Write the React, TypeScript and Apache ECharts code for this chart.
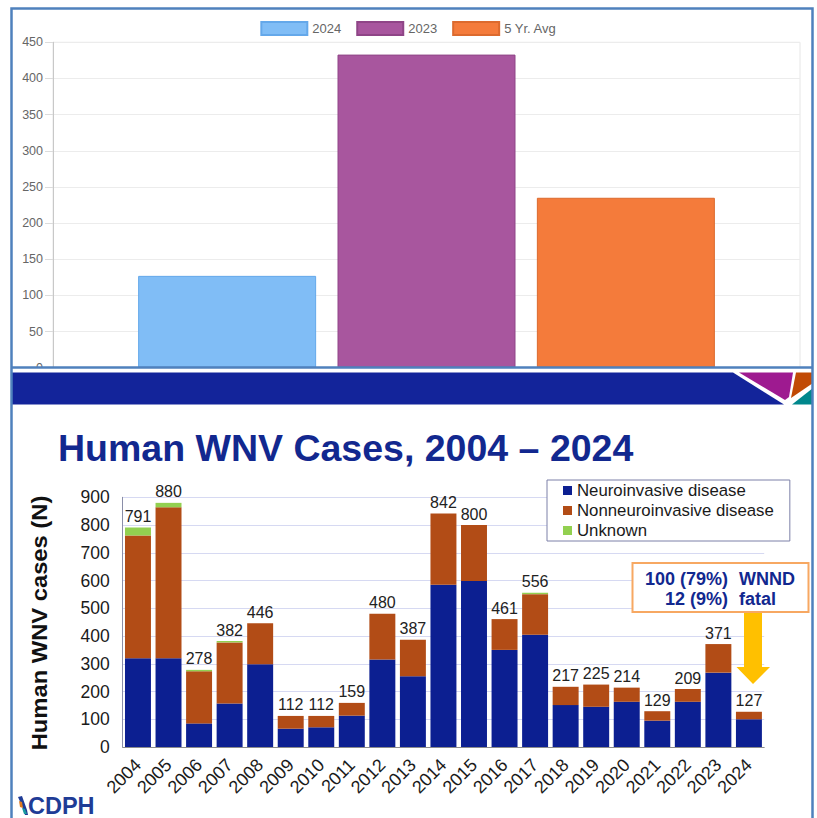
import React, { useEffect, useRef } from "react";
import * as echarts from "echarts";

// ---------- top chart data ----------
const TOP_NAMES = ["2024", "2023", "5 Yr. Avg"];
const TOP_VALUES = [127, 433, 235];
const TOP_COLORS = ["#80bdf6", "#a8569e", "#f47b3b"];
const TOP_BORDERS = ["#64a8ea", "#8f4587", "#dc6a2e"];

// ---------- bottom chart data ----------
const YEARS = [
  "2004", "2005", "2006", "2007", "2008", "2009", "2010", "2011", "2012", "2013",
  "2014", "2015", "2016", "2017", "2018", "2019", "2020", "2021", "2022", "2023", "2024",
];
const NEURO = [320, 320, 85, 157, 298, 66, 71, 113, 315, 255, 585, 598, 350, 405, 151, 145, 163, 95, 163, 268, 100];
const NON_NEURO = [442, 544, 188, 220, 148, 46, 41, 46, 165, 132, 257, 202, 111, 146, 66, 80, 51, 34, 46, 103, 27];
const UNKNOWN = [29, 16, 5, 5, 0, 0, 0, 0, 0, 0, 0, 0, 0, 5, 0, 0, 0, 0, 0, 0, 0];
const TOTALS = [791, 880, 278, 382, 446, 112, 112, 159, 480, 387, 842, 800, 461, 556, 217, 225, 214, 129, 209, 371, 127];
const BOTTOM_NAMES = ["Neuroinvasive disease", "Nonneuroinvasive disease", "Unknown"];
const BOTTOM_COLORS = ["#0c1f91", "#b24c16", "#92d050"];

const FONT = "'Liberation Sans', Arial, sans-serif";
const FRAME = "#4f81bd";
const NAVY = "#12288f";

export default function App() {
  const ref = useRef<HTMLDivElement>(null);
  useEffect(() => {
    if (!ref.current) return;
    const chart = echarts.init(ref.current, undefined, { renderer: "svg" });

    const topSeries = TOP_NAMES.map((name, i) => ({
      name,
      type: "bar",
      xAxisIndex: 0,
      yAxisIndex: 0,
      barWidth: 178,
      barGap: "12%",
      data: [TOP_VALUES[i]],
      itemStyle: { color: TOP_COLORS[i], borderColor: TOP_BORDERS[i], borderWidth: 1 },
    }));

    const bottomData = [NEURO, NON_NEURO, UNKNOWN];
    const bottomSeries = BOTTOM_NAMES.map((name, i) => ({
      name,
      type: "bar",
      stack: "cases",
      xAxisIndex: 1,
      yAxisIndex: 1,
      barCategoryGap: "15%",
      data: bottomData[i],
      itemStyle: { color: BOTTOM_COLORS[i] },
      label:
        i === 2
          ? {
              show: true,
              position: "top",
              distance: 3,
              fontSize: 16,
              fontFamily: FONT,
              color: "#222",
              formatter: (p: any) => String(TOTALS[p.dataIndex]),
            }
          : { show: false },
    }));

    chart.setOption({
      animation: false,
      backgroundColor: "#ffffff",
      textStyle: { fontFamily: FONT },
      legend: [
        {
          data: TOP_NAMES,
          left: "center",
          top: 16,
          icon: "rect",
          itemWidth: 46,
          itemHeight: 13,
          itemGap: 15,
          textStyle: { color: "#666", fontSize: 13, fontFamily: FONT },
        },
        {
          data: BOTTOM_NAMES,
          orient: "vertical",
          left: 547,
          top: 480,
          icon: "rect",
          itemWidth: 9,
          itemHeight: 9,
          itemGap: 3,
          padding: [2, 16, 2, 16],
          borderColor: "#7d80a8",
          borderWidth: 1,
          backgroundColor: "#fff",
          textStyle: { color: "#1a1a1a", fontSize: 16.8, fontFamily: FONT },
        },
      ],
      grid: [
        { left: 53, width: 747, top: 42.3, height: 325.4, show: true, borderColor: "#e6e6e6", borderWidth: 1 },
        { left: 122.7, width: 641.5, top: 497.3, height: 249.7 },
      ],
      xAxis: [
        {
          type: "category",
          gridIndex: 0,
          data: [""],
          axisLine: { show: false },
          axisTick: { show: false },
          axisLabel: { show: false },
        },
        {
          type: "category",
          gridIndex: 1,
          data: YEARS,
          axisLine: { show: true, lineStyle: { color: "#8c8c8c", width: 1 } },
          axisTick: { show: false },
          axisLabel: {
            rotate: 45,
            fontSize: 18,
            color: "#1a1a1a",
            margin: 15,
            interval: 0,
            fontFamily: FONT,
          },
        },
      ],
      yAxis: [
        {
          type: "value",
          gridIndex: 0,
          min: 0,
          max: 450,
          interval: 50,
          axisLine: { show: true, lineStyle: { color: "#c8c8c8" } },
          axisTick: { show: true, length: 8, lineStyle: { color: "#dcdcdc" } },
          axisLabel: { color: "#666", fontSize: 12.5, margin: 10, fontFamily: FONT },
          splitLine: { show: true, lineStyle: { color: "#ececec" } },
        },
        {
          type: "value",
          gridIndex: 1,
          min: 0,
          max: 900,
          interval: 100,
          axisLine: { show: true, lineStyle: { color: "#8a8ea8" } },
          axisTick: { show: false },
          axisLabel: { color: "#1a1a1a", fontSize: 17.5, margin: 13, fontFamily: FONT },
          splitLine: { show: true, lineStyle: { color: "#d6d9f2" } },
        },
      ],
      series: [...topSeries, ...bottomSeries],
      graphic: [
        // cover below top chart
        { type: "rect", z: 100, shape: { x: 12, y: 368, width: 801, height: 5 }, style: { fill: "#fff" } },
        // banner
        {
          type: "polygon",
          z: 101,
          shape: { points: [[12, 372.5], [733, 372.5], [784, 404.5], [12, 404.5]] },
          style: { fill: "#13249a" },
        },
        {
          type: "polygon",
          z: 101,
          shape: { points: [[739, 372.5], [793, 372.5], [789, 397], [785, 400]] },
          style: { fill: "#9e1a90" },
        },
        {
          type: "polygon",
          z: 101,
          shape: { points: [[796, 372.5], [813, 372.5], [813, 383], [791, 398]] },
          style: { fill: "#c14a05" },
        },
        {
          type: "polygon",
          z: 101,
          shape: { points: [[792, 404.5], [813, 388], [813, 404.5]] },
          style: { fill: "#00878c" },
        },
        // frame
        {
          type: "rect",
          z: 102,
          shape: { x: 11.5, y: 8.5, width: 801, height: 830 },
          style: { fill: "none", stroke: FRAME, lineWidth: 2.5 },
        },
        {
          type: "line",
          z: 102,
          shape: { x1: 11.5, y1: 367.5, x2: 812.5, y2: 367.5 },
          style: { stroke: FRAME, lineWidth: 2.5 },
        },
        // title
        {
          type: "text",
          z: 103,
          x: 58,
          y: 448,
          style: {
            text: "Human WNV Cases, 2004 – 2024",
            fill: NAVY,
            font: `bold 37.5px ${FONT}`,
            textVerticalAlign: "middle",
          },
        },
        // y axis name
        {
          type: "text",
          z: 103,
          x: 39,
          y: 623,
          rotation: Math.PI / 2,
          scaleX: 1.08,
          style: {
            text: "Human WNV cases (N)",
            fill: "#111",
            font: `bold 22px ${FONT}`,
            textAlign: "center",
            textVerticalAlign: "middle",
          },
        },
        // annotation box
        {
          type: "rect",
          z: 103,
          shape: { x: 632.5, y: 563, width: 176, height: 49 },
          style: { fill: "#fff", stroke: "#f7a862", lineWidth: 2 },
        },
        {
          type: "text",
          z: 104,
          x: 728,
          y: 579,
          style: { text: "100 (79%)", fill: NAVY, font: `bold 18px ${FONT}`, textAlign: "right", textVerticalAlign: "middle" },
        },
        {
          type: "text",
          z: 104,
          x: 728,
          y: 599,
          style: { text: "12 (9%)", fill: NAVY, font: `bold 18px ${FONT}`, textAlign: "right", textVerticalAlign: "middle" },
        },
        {
          type: "text",
          z: 104,
          x: 739,
          y: 579,
          style: { text: "WNND", fill: NAVY, font: `bold 18px ${FONT}`, textAlign: "left", textVerticalAlign: "middle" },
        },
        {
          type: "text",
          z: 104,
          x: 739,
          y: 599,
          style: { text: "fatal", fill: NAVY, font: `bold 18px ${FONT}`, textAlign: "left", textVerticalAlign: "middle" },
        },
        // arrow
        {
          type: "polygon",
          z: 103,
          shape: {
            points: [[744, 613], [762, 613], [762, 667], [770, 667], [753, 684], [736.5, 667], [744, 667]],
          },
          style: { fill: "#ffc000" },
        },
        // CDPH logo
        {
          type: "polygon",
          z: 103,
          shape: { points: [[18, 797], [22, 796], [27, 810], [28, 815], [25, 815], [22, 806]] },
          style: { fill: "#1f3c96" },
        },
        {
          type: "polygon",
          z: 104,
          shape: { points: [[19, 801], [22, 802], [23, 808], [20, 807]] },
          style: { fill: "#e07b1f" },
        },
        {
          type: "polygon",
          z: 104,
          shape: { points: [[22, 808], [25, 809], [27, 814], [24, 814]] },
          style: { fill: "#1a9aa0" },
        },
        {
          type: "text",
          z: 103,
          x: 28,
          y: 806,
          style: { text: "CDPH", fill: "#1f3c96", font: `bold 23.5px ${FONT}`, textVerticalAlign: "middle" },
        },
      ],
    });
    return () => chart.dispose();
  }, []);

  return (
    <div
      ref={ref}
      style={{ position: "fixed", left: 0, top: 0, width: 817, height: 818, background: "#fff" }}
    />
  );
}
